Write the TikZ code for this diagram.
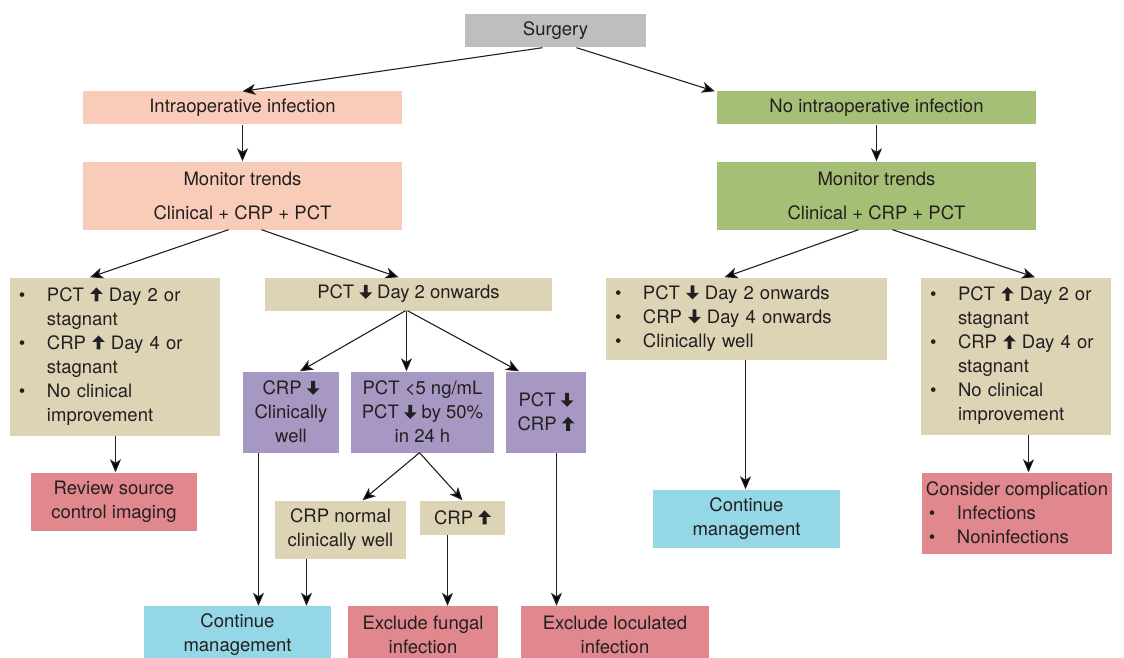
\documentclass[tikz,border=0pt]{standalone}
\usepackage{fontspec}
\setmainfont{TeX Gyre Heros}
\usetikzlibrary{arrows.meta}
\definecolor{ink}{HTML}{231F20}
\definecolor{cgray}{HTML}{BCBEC0}
\definecolor{cpeach}{HTML}{F8CCB8}
\definecolor{cgreen}{HTML}{A5BF77}
\definecolor{ctan}{HTML}{DDD4B6}
\definecolor{cpurple}{HTML}{A797C3}
\definecolor{cred}{HTML}{E0888D}
\definecolor{ccyan}{HTML}{94D7E7}
% setas grossas dentro do texto
\newcommand{\up}{\tikz[baseline=0pt,x=1pt,y=1pt]\fill[ink] (-1.9,0) -- (-1.9,7.5) -- (-6.3,7.5) -- (0,14) -- (6.3,7.5) -- (1.9,7.5) -- (1.9,0) -- cycle;}
\newcommand{\dn}{\tikz[baseline=0pt,x=1pt,y=1pt]\fill[ink] (-1.9,14) -- (-1.9,6.5) -- (-6.3,6.5) -- (0,0) -- (6.3,6.5) -- (1.9,6.5) -- (1.9,14) -- cycle;}
\newcommand{\bul}{\makebox[28pt][l]{\textbullet}}
\newcommand{\ind}{\hspace*{28pt}}

\begin{document}
\begin{tikzpicture}[x=1pt,y=-1pt,
  box/.style={rectangle,inner sep=0pt,align=center,text=ink,
    font=\fontsize{18.5}{24}\selectfont},
  lst/.style={box,align=left,inner xsep=9pt},
  flow/.style={draw=ink,line width=1.1pt,
    -{Stealth[length=13pt,width=11pt,inset=3.5pt]}}]
  \clip (0,0) rectangle (1124,658);

  %topo
  \node[box,fill=cgray,minimum width=181,minimum height=33] (surgery) at (555.5,31) {Surgery};
  \node[box,fill=cpeach,minimum width=319,minimum height=33] (infect) at (242.5,108) {Intraoperative infection};
  \node[box,fill=cgreen,minimum width=319,minimum height=33] (noinfect) at (876.5,108) {No intraoperative infection};
  \node[box,fill=cpeach,minimum width=319,minimum height=68] (monL) at (242.5,195.5) {Monitor trends\\[10pt]Clinical + CRP + PCT};
  \node[box,fill=cgreen,minimum width=319,minimum height=68] (monR) at (876.5,195.5) {Monitor trends\\[10pt]Clinical + CRP + PCT};

  %ramo esquerdo
  \node[lst,fill=ctan,text width=192,minimum height=158] (bulL) at (115,356.5)
    {\bul PCT \up\ Day 2 or\\\ind stagnant\\\bul CRP \up\ Day 4 or\\\ind stagnant\\\bul No clinical\\\ind improvement};
  \node[box,fill=ctan,minimum width=287,minimum height=33] (pctdn) at (408.5,294) {PCT \dn\ Day 2 onwards};
  \node[box,fill=cpurple,minimum width=96,minimum height=81] (crpdn) at (291,412) {CRP \dn\\Clinically\\well};
  \node[box,fill=cpurple,minimum width=143,minimum height=81] (pct5) at (422.5,412) {PCT <5 ng/mL\\PCT \dn\ by 50\%\\in 24 h};
  \node[box,fill=cpurple,minimum width=80,minimum height=81] (pctcrp) at (546,412) {PCT \dn\\CRP \up};
  \node[box,fill=cred,minimum width=166,minimum height=58] (review) at (114,501.5) {Review source\\control imaging};
  \node[box,fill=ctan,minimum width=131,minimum height=58] (crpnorm) at (340.5,529.5) {CRP normal\\clinically well};
  \node[box,fill=ctan,minimum width=85,minimum height=34] (crpup) at (462.5,517.5) {CRP \up};
  \node[box,fill=ccyan,minimum width=187,minimum height=58] (contB) at (237.5,635) {Continue\\management};
  \node[box,fill=cred,minimum width=150,minimum height=58] (fungal) at (423,635) {Exclude fungal\\infection};
  \node[box,fill=cred,minimum width=188,minimum height=58] (locul) at (615,635) {Exclude loculated\\infection};

  %ramo direito
  \node[lst,fill=ctan,text width=263,minimum height=82] (bulM) at (746.5,318.5)
    {\bul PCT \dn\ Day 2 onwards\\\bul CRP \dn\ Day 4 onwards\\\bul Clinically well};
  \node[lst,fill=ctan,text width=172,minimum height=157] (bulR) at (1016,356)
    {\bul PCT \up\ Day 2 or\\\ind stagnant\\\bul CRP \up\ Day 4 or\\\ind stagnant\\\bul No clinical\\\ind improvement};
  \node[box,fill=ccyan,minimum width=187,minimum height=58] (contM) at (746.5,518.5) {Continue\\management};
  \node[box,align=left,fill=cred,minimum width=190,minimum height=81] (consider) at (1017,513)
    {Consider complication\\\hspace*{3pt}\bul Infections\\\hspace*{3pt}\bul Noninfections};

  %setas
  \draw[flow] ([xshift=-13]surgery.south) -- (infect.north);
  \draw[flow] ([xshift=21]surgery.south) -- ([xshift=-2]noinfect.north west);
  \draw[flow] (infect) -- (monL);
  \draw[flow] (noinfect) -- (monR);
  \draw[flow] ([xshift=-14]monL.south) -- ([xshift=-25]bulL.north);
  \draw[flow] ([xshift=19]monL.south) -- ([xshift=-10]pctdn.north);
  \draw[flow] ([xshift=-18]monR.south) -- ([xshift=-22]bulM.north);
  \draw[flow] ([xshift=16]monR.south) -- ([xshift=19]bulR.north);
  \draw[flow] ([xshift=0.5]bulL.south) -- ([xshift=0.5]bulL.south |- review.north);
  \draw[flow] ([xshift=-3]pctdn.south) -- ([xshift=9]crpdn.north);
  \draw[flow] ([xshift=-2]pctdn.south) -- ([xshift=-2]pctdn.south |- pct5.north);
  \draw[flow] ([xshift=-1]pctdn.south) -- ([xshift=-27]pctcrp.north);
  \draw[flow] ([xshift=-32.5]crpdn.south) -- ([xshift=-32.5]crpdn.south |- contB.north);
  \draw[flow] ([xshift=-3]pct5.south) -- ([xshift=22]crpnorm.north);
  \draw[flow] ([xshift=-3]pct5.south) -- (crpup.north);
  \draw[flow] ([xshift=-34]crpnorm.south) -- ([xshift=-34]crpnorm.south |- contB.north);
  \draw[flow] ([xshift=-15]crpup.south) -- ([xshift=-15]crpup.south |- fungal.north);
  \draw[flow] ([xshift=10.5]pctcrp.south) -- ([xshift=10.5]pctcrp.south |- locul.north);
  \draw[flow] ([xshift=-1]bulM.south) -- ([xshift=-1]bulM.south |- contM.north);
  \draw[flow] ([xshift=12.5]bulR.south) -- ([xshift=12.5]bulR.south |- consider.north);
\end{tikzpicture}
\end{document}
